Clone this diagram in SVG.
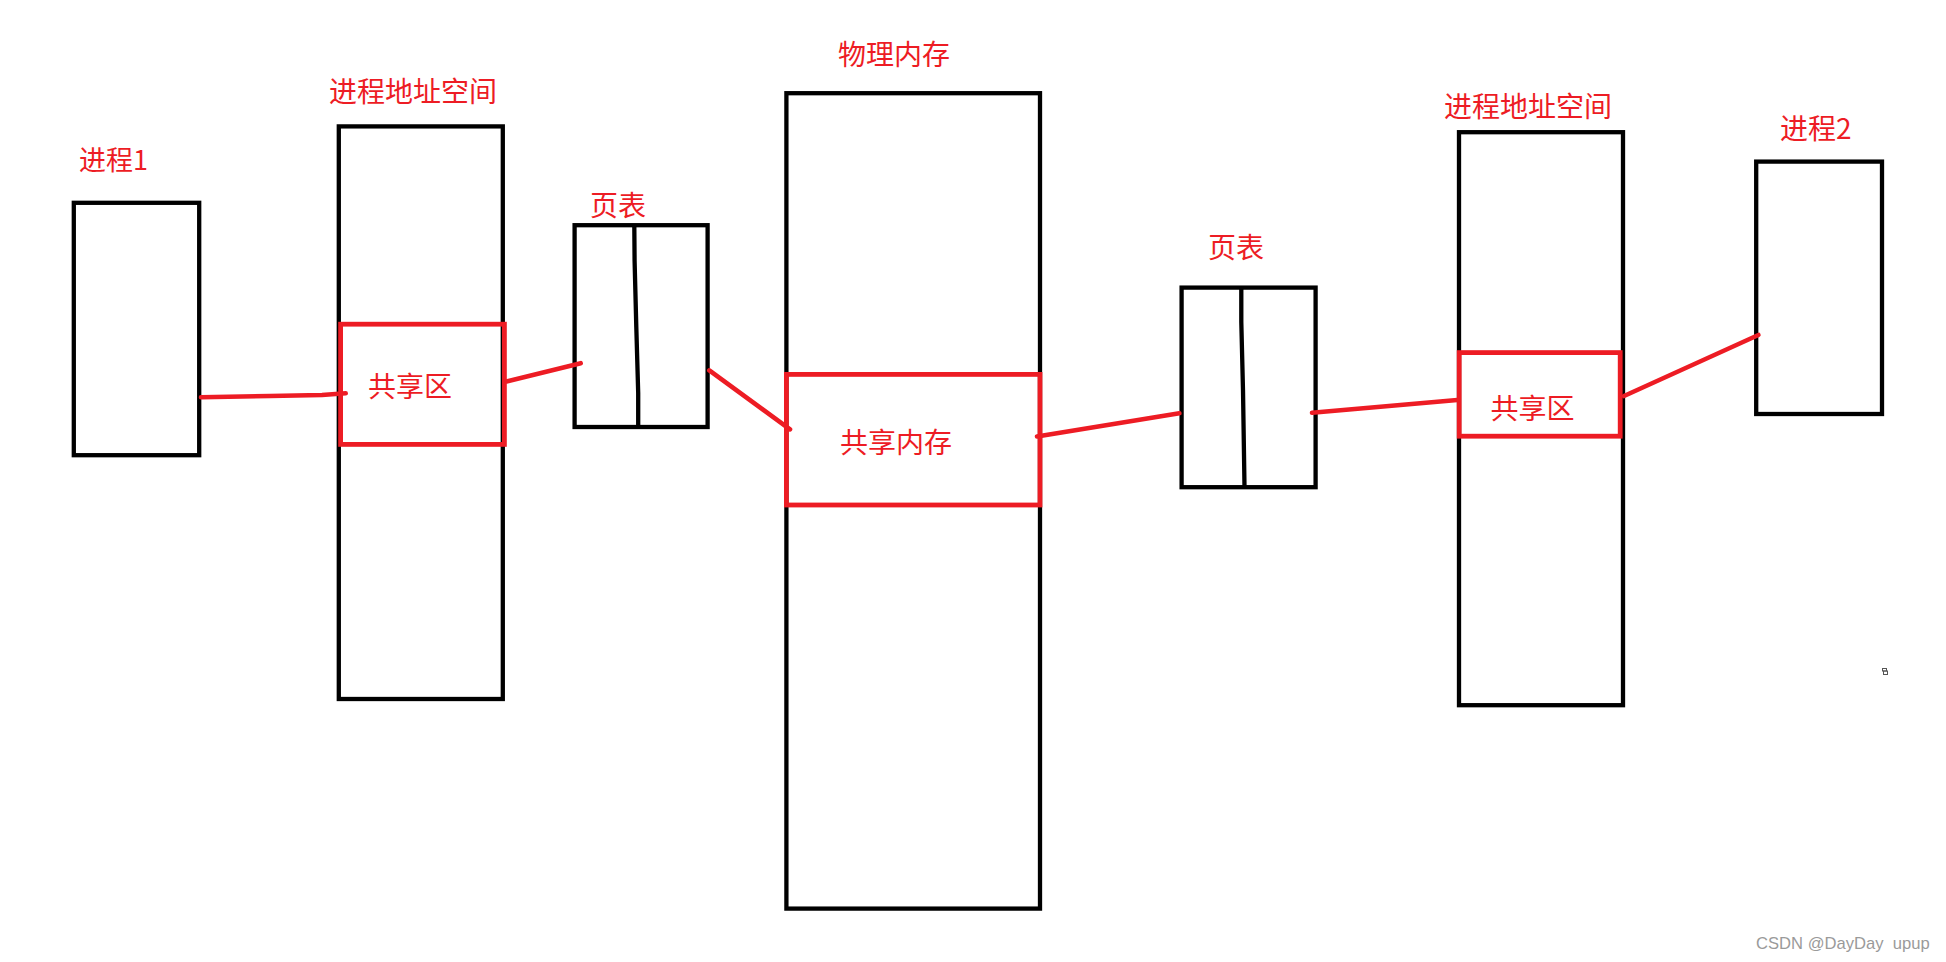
<svg xmlns="http://www.w3.org/2000/svg" width="1946" height="962" viewBox="0 0 1946 962">
<style>
.box{fill:none;stroke:#000;stroke-width:4.3}
.red{fill:none;stroke:#ED1C24;stroke-width:4.8}
.div{fill:none;stroke:#000;stroke-width:4.3;stroke-linejoin:round}
.conn{fill:none;stroke:#ED1C24;stroke-width:4.6;stroke-linecap:round}
.lbl{font-family:"Noto Sans CJK SC","Microsoft YaHei",sans-serif;font-size:28px;fill:#ED1C24}
.wm{font-family:"Liberation Sans",Arial,sans-serif;font-size:16.6px;fill:#9a9a9a;white-space:pre}
</style>
<rect width="1946" height="962" fill="#fff"/>
<g id="process1">
<rect class="box" x="73.8" y="202.8" width="125.4" height="252.4"/>
<text class="lbl" x="79" y="169.5" style="font-size:27px">进程1</text>
</g>
<g id="addrspace1">
<rect class="box" x="338.8" y="126.4" width="164" height="572.6"/>
<text class="lbl" x="329" y="101.5">进程地址空间</text>
</g>
<g id="shared1">
<rect class="red" x="340.6" y="324.2" width="163.8" height="120.2"/>
<text class="lbl" x="368" y="396.5">共享区</text>
</g>
<g id="pagetable1">
<rect class="box" x="574.6" y="225.2" width="133" height="201.8"/>
<polyline class="div" points="634.3,225 634.6,261 636.3,327 638.2,393 638.2,427"/>
<text class="lbl" x="590" y="215.5">页表</text>
</g>
<g id="memory">
<rect class="box" x="786.4" y="93.2" width="253.6" height="815.4"/>
<text class="lbl" x="838" y="64.5">物理内存</text>
</g>
<g id="sharedmem">
<rect class="red" x="786.4" y="374.4" width="253.6" height="130.6"/>
<text class="lbl" x="840" y="452.5">共享内存</text>
</g>
<g id="pagetable2">
<rect class="box" x="1181.6" y="287.6" width="134" height="199.6"/>
<polyline class="div" points="1241.3,287.6 1241.3,322 1243,390 1244.5,487"/>
<text class="lbl" x="1208" y="257.5">页表</text>
</g>
<g id="addrspace2">
<rect class="box" x="1459" y="132.2" width="164" height="573"/>
<text class="lbl" x="1444" y="116.5">进程地址空间</text>
</g>
<g id="shared2">
<rect class="red" x="1459.2" y="352.6" width="161" height="83.6"/>
<text class="lbl" x="1490.5" y="418.5">共享区</text>
</g>
<g id="process2">
<rect class="box" x="1756.2" y="161.6" width="125.8" height="252.4"/>
<text class="lbl" x="1780" y="138.5">进程2</text>
</g>
<g id="connectors">
<polyline class="conn" points="201,397.3 270,396 322,395 345.7,393.3"/>
<line class="conn" x1="506.5" y1="381.5" x2="580.7" y2="363.2"/>
<line class="conn" x1="709.3" y1="370.4" x2="790" y2="429.3"/>
<line class="conn" x1="1037" y1="436.4" x2="1179.4" y2="413.3"/>
<line class="conn" x1="1312" y1="412.7" x2="1457.3" y2="400"/>
<line class="conn" x1="1624" y1="396" x2="1758.4" y2="335"/>
</g>
<g id="mark" fill="none" stroke="#555" stroke-width="1">
<rect x="1882.5" y="668.5" width="4" height="2.5"/>
<rect x="1883.5" y="671" width="4" height="3.5"/>
</g>
<text class="wm" x="1756" y="949" xml:space="preserve">CSDN @DayDay  upup</text>
</svg>
